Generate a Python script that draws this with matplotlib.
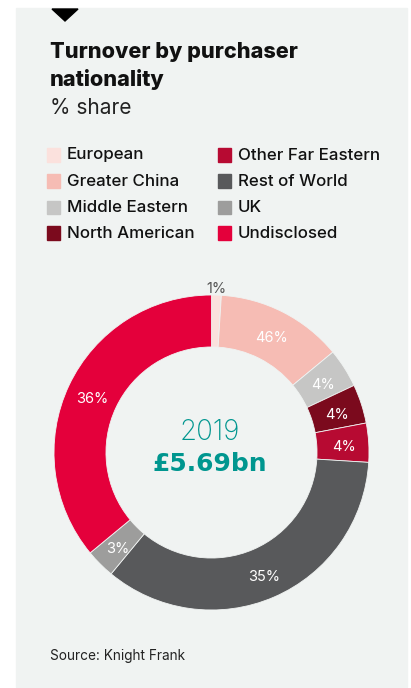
import numpy as np
import matplotlib.pyplot as plt
from matplotlib.patches import Rectangle, Polygon

W, H = 411, 688

categories = ['European', 'Greater China', 'Middle Eastern', 'North American',
              'Other Far Eastern', 'Rest of World', 'UK', 'Undisclosed']
shares = [1, 13, 4, 4, 4, 35, 3, 36]
share_labels = ['1%', '46%', '4%', '4%', '4%', '35%', '3%', '36%']
colors = ['#fbe1dd', '#f6bcb4', '#c6c6c5', '#7b0a1d',
          '#b70a32', '#58595b', '#9d9d9c', '#e4003b']

bg = '#f0f3f2'
teal = '#00968f'
plt.rcParams['font.family'] = ['Inter', 'DejaVu Sans']


def fx(x):
    return x / W


def fy(y):
    return 1 - y / H


fig = plt.figure(figsize=(W / 100, H / 100), dpi=100)
fig.patch.set_facecolor('white')

# grey panel and the little marker triangle
fig.patches.append(Rectangle((fx(16), fy(687)), fx(407) - fx(16), fy(8) - fy(687),
                             transform=fig.transFigure, color=bg, zorder=-5))
fig.patches.append(Polygon([(fx(52), fy(9)), (fx(78), fy(9)), (fx(65), fy(21))],
                           closed=True, transform=fig.transFigure, color='black', zorder=-4))

fig.text(fx(50), fy(51.5), 'Turnover by purchaser', fontsize=15.6, fontweight='heavy',
         va='center', ha='left', color='#111111')
fig.text(fx(50), fy(79.5), 'nationality', fontsize=15.6, fontweight='heavy',
         va='center', ha='left', color='#111111')
fig.text(fx(50), fy(108), '% share', fontsize=15, va='center', ha='left', color='#222222')

# legend, two columns of four
for i, (cat, col) in enumerate(zip(categories, colors)):
    colx = 47 if i < 4 else 218
    rowy = [155, 181, 207, 233][i % 4]
    fig.patches.append(Rectangle((fx(colx), fy(rowy + 6.5)), 13 / W, 13 / H,
                                 transform=fig.transFigure, color=col, zorder=-3))
    fig.text(fx(colx + 20), fy(rowy), cat, fontsize=12.2, fontweight='medium',
             va='center', ha='left', color='#111111')

# donut
cx, cy, r = 211.5, 452.5, 157.5
half = 162
ax = fig.add_axes([fx(cx - half), fy(cy + half), 2 * half / W, 2 * half / H])
ax.set_zorder(2)
ax.set_facecolor('none')
wedges, _ = ax.pie(shares, colors=colors, startangle=90, counterclock=False,
                   radius=1, wedgeprops=dict(width=0.33, edgecolor=bg, linewidth=0.6))
ax.set_xlim(-half / r, half / r)
ax.set_ylim(-half / r, half / r)
ax.set_aspect('equal')
ax.axis('off')

cum = np.cumsum([0] + shares[:-1])
for s, c0, lab in zip(shares, cum, share_labels):
    ang = np.deg2rad(90 - 360 * (c0 + s / 2) / 100)
    if s < 2:
        rr, tc = 1.06, '#555555'
    else:
        rr, tc = 0.84, 'white'
    ax.text(rr * np.cos(ang), rr * np.sin(ang) - 0.02, lab, ha='center', va='center',
            fontsize=10.5, color=tc)

ax.text(-0.01, 0.13, '2019', ha='center', va='center', fontsize=20,
        fontweight='light', color=teal)
ax.text(-0.01, -0.07, '£5.69bn', ha='center', va='center', fontsize=18,
        fontweight='bold', color=teal, family='DejaVu Sans')

fig.text(fx(50), fy(656), 'Source: Knight Frank', fontsize=9.8, va='center',
         ha='left', color='#222222')

fig.savefig('out.png', dpi=100, facecolor=fig.get_facecolor())
